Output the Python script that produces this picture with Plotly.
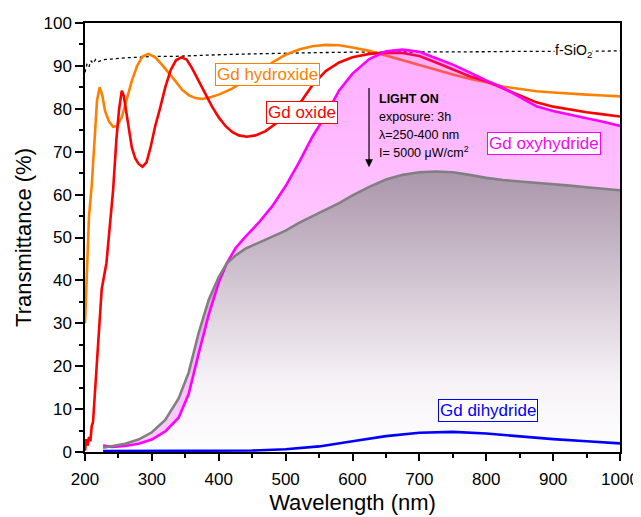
import plotly.graph_objects as go

# ---------------- data ----------------
sio2_x = [200, 203, 206, 209, 212, 216, 220, 230, 240, 260, 280, 300, 330, 360, 400, 450,
          500, 550, 600, 650, 700, 750, 800, 850, 880, 900, 950, 1000]
sio2_y = [88.5, 90.5, 89.8, 91.2, 90.6, 91.5, 91.0, 91.5, 91.6, 91.9, 92.0, 92.2, 92.2, 92.4,
          92.6, 92.8, 93.0, 93.1, 93.2, 93.2, 93.3, 93.3, 93.3, 93.4, 93.3, 93.4, 93.4, 93.5]

hydroxide_x = [200, 203, 206, 210, 214, 218, 222, 226, 230, 236, 242, 248, 255, 262, 270, 278,
               286, 295, 305, 315, 325, 335, 345, 355, 365, 375, 385, 400, 420, 440, 460, 480,
               500, 520, 540, 560, 580, 600, 625, 650, 675, 700, 725, 750, 775, 800, 825, 850,
               875, 900, 925, 950, 975, 1000]
hydroxide_y = [30, 42, 55, 62, 72, 82, 85, 83, 79.5, 77, 75.8, 76, 78, 82, 86.5, 90,
               92.2, 92.8, 92, 90.3, 88.5, 86.5, 84.5, 83.2, 82.5, 82.3, 82.6, 83.3, 84.7, 86.5, 88.5, 90.8,
               92.6, 93.8, 94.6, 94.9, 94.8, 94.3, 93.5, 92.4, 91.3, 90.2, 89.0, 88.0, 87.0, 86.2, 85.2, 84.6,
               84.1, 83.8, 83.5, 83.3, 83.1, 82.9]

oxide_x = [200, 202, 204, 206, 208, 210, 212, 215, 220, 225, 232, 237, 242, 247, 251, 255, 258,
           262, 266, 270, 275, 280, 286, 292, 298, 305, 312, 320, 328, 336, 344, 352, 360, 370,
           380, 390, 400, 410, 420, 430, 442, 455, 470, 485, 500, 520, 540, 560, 580, 600, 625,
           650, 675, 700, 725, 750, 775, 800, 825, 850, 875, 900, 925, 950, 975, 1000]
oxide_y = [0.3, 3.0, 1.5, 3.5, 2.5, 6.0, 7.0, 14.6, 26, 38, 44, 52, 61, 73, 80, 84.2, 83,
           79, 74.5, 71, 68.5, 67.2, 66.5, 67.5, 71, 76, 80, 85, 89, 91.3, 92, 91.5, 89.5, 86.5,
           83.5, 80.5, 78, 76, 74.6, 73.8, 73.5, 73.8, 74.8, 76.5, 78.5, 81, 85.5, 88.8, 90.8, 92, 92.8,
           93.1, 93.0, 92.3, 90.8, 89.2, 87.6, 86.4, 84.8, 83.2, 81.5, 80.5, 79.8, 79.2, 78.7, 78.2]

oxyh_x = [227, 240, 260, 280, 300, 320, 340, 355, 370, 385, 400, 412, 425, 440, 460, 480, 500,
          520, 540, 560, 580, 600, 625, 650, 675, 700, 725, 750, 775, 800, 825, 850, 875, 900,
          925, 950, 975, 1000]
oxyh_y = [1.5, 1.2, 1.4, 1.9, 2.9, 4.8, 8.0, 13.5, 23, 32, 39.5, 44, 47.5, 50.2, 53.5, 57.3, 62,
          67.5, 73.5, 78.5, 84.3, 88.2, 91.6, 93.4, 93.8, 93.3, 91.8, 90.3, 88.5, 86.6, 84.9, 82.8,
          80.6, 79.5, 78.6, 77.8, 77.0, 76.0]
light_y = [1.0, 1.3, 1.9, 2.9, 4.6, 7.5, 12.5, 18.5, 27.8, 35.5, 40.8, 44, 45.8, 47.4, 48.8, 50.2,
           51.6, 53.4, 55.0, 56.5, 58.0, 59.8, 61.8, 63.5, 64.6, 65.2, 65.4, 65.2, 64.6, 63.9, 63.4,
           63.1, 62.8, 62.4, 62.1, 61.7, 61.3, 61.0]

dihyd_x = [227, 250, 300, 350, 400, 450, 500, 550, 600, 650, 700, 750, 800, 850, 900, 950, 1000]
dihyd_y = [0.2, 0.2, 0.2, 0.2, 0.25, 0.35, 0.65, 1.3, 2.5, 3.7, 4.5, 4.7, 4.3, 3.6, 3.0, 2.5, 2.0]

xticks = [200, 300, 400, 500, 600, 700, 800, 900, 1000]
yticks = [0, 10, 20, 30, 40, 50, 60, 70, 80, 90, 100]

FONT = "Arial, Liberation Sans, sans-serif"

fig = go.Figure()

fig.add_trace(go.Scatter(x=sio2_x, y=sio2_y, mode="lines",
                         line=dict(color="black", width=1.3, dash="dot"), showlegend=False))
fig.add_trace(go.Scatter(x=hydroxide_x, y=hydroxide_y, mode="lines",
                         line=dict(color="#ff8000", width=2.6), showlegend=False))
fig.add_trace(go.Scatter(x=oxide_x, y=oxide_y, mode="lines",
                         line=dict(color="#ff0000", width=2.6), showlegend=False))

# grey gradient fill under "light on" curve
fig.add_trace(go.Scatter(x=oxyh_x, y=light_y, mode="lines", line=dict(width=0),
                         fill="tozeroy",
                         fillgradient=dict(type="vertical", start=0, stop=65,
                                           colorscale=[[0, "#ffffff"], [0.25, "#f6f2f6"],
                                                       [1, "#ab96ab"]]),
                         showlegend=False, hoverinfo="skip"))
# pink (semi-transparent) fill between grey curve and oxyhydride curve
fig.add_trace(go.Scatter(x=oxyh_x, y=oxyh_y, mode="lines", line=dict(width=0),
                         fill="tonexty",
                         fillgradient=dict(type="vertical", start=40, stop=94,
                                           colorscale=[[0, "rgba(255,0,255,0.2)"],
                                                       [1, "rgba(255,0,255,0.32)"]]),
                         showlegend=False, hoverinfo="skip"))

fig.add_trace(go.Scatter(x=oxyh_x, y=oxyh_y, mode="lines",
                         line=dict(color="#ff00ff", width=2.6), showlegend=False))
fig.add_trace(go.Scatter(x=oxyh_x, y=light_y, mode="lines",
                         line=dict(color="#808080", width=2.6), showlegend=False))
fig.add_trace(go.Scatter(x=dihyd_x, y=dihyd_y, mode="lines",
                         line=dict(color="#0000ff", width=2.6), showlegend=False))

def boxed(text, x, y, color):
    fig.add_annotation(x=x, y=y, xref="x", yref="y", text=text, showarrow=False,
                       font=dict(family=FONT, size=17, color=color),
                       bgcolor="white", bordercolor=color, borderwidth=1, borderpad=1)

boxed("Gd hydroxide", 473.6, 87.9, "#ff8000")
boxed("Gd oxide", 524, 79.2, "#ff0000")
boxed("Gd oxyhydride", 887, 71.8, "#ff00ff")
boxed("Gd dihydride", 802, 9.7, "#0000ff")

fig.add_annotation(x=930, y=93.4, xref="x", yref="y", text="f-SiO<sub>2</sub>", showarrow=False,
                   font=dict(family=FONT, size=14, color="black"), bgcolor="white", borderpad=0)

info_lines = ["<b>LIGHT ON</b>", "exposure: 3h", "λ=250-400 nm", "I= 5000 μW/cm<sup>2</sup>"]
info_y = [82.2, 78.0, 74.0, 69.9]
for t, yy in zip(info_lines, info_y):
    fig.add_annotation(x=636, y=yy, xref="x", yref="y", text=t, showarrow=False,
                       xanchor="left", font=dict(family=FONT, size=12.5, color="black"))

fig.add_annotation(x=624.7, y=66.4, ax=624.7, ay=85.2, xref="x", yref="y", axref="x", ayref="y",
                   text="", showarrow=True, arrowhead=2, arrowsize=1.3, arrowwidth=1.2,
                   arrowcolor="black")

axis_common = dict(showline=True, linecolor="black", linewidth=1.5, mirror=True,
                   ticks="outside", tickcolor="black", tickwidth=1.5, showgrid=False,
                   zeroline=False, automargin=False,
                   tickfont=dict(family=FONT, size=17, color="black"))

fig.update_xaxes(range=[200, 1000], tickvals=xticks, ticklen=7, ticklabelstandoff=4,
                 minor=dict(ticks="outside", dtick=50, tick0=200, ticklen=4, tickcolor="black",
                            tickwidth=1.5, showgrid=False),
                 title=dict(text="Wavelength (nm)", font=dict(family=FONT, size=22, color="black"),
                            standoff=6),
                 **axis_common)
fig.update_yaxes(range=[0, 100], tickvals=yticks, ticklen=8,
                 minor=dict(ticks="outside", dtick=5, tick0=0, ticklen=4, tickcolor="black",
                            tickwidth=1.5, showgrid=False),
                 title=dict(text="Transmittance (%)", font=dict(family=FONT, size=22, color="black"),
                            standoff=6),
                 **axis_common)

# the page body adds an 8px margin, so the figure is sized 8px smaller
fig.update_layout(width=633, height=509, margin=dict(l=77, r=21, t=15, b=65),
                  plot_bgcolor="white", paper_bgcolor="white", showlegend=False)

fig.write_html("out.html")
